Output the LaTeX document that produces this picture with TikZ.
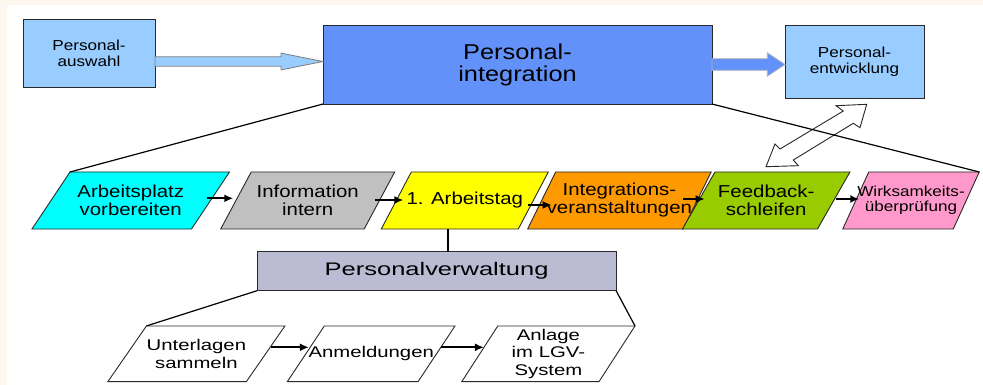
\documentclass[tikz,border=0pt]{standalone}
\usepackage{fontspec}
\setmainfont{Liberation Sans}[FakeStretch=1.18]
\newfontfamily\widesans{Liberation Sans}[FakeStretch=1.31]
\newfontfamily\widersans{Liberation Sans}[FakeStretch=1.4]
\usetikzlibrary{calc,arrows.meta}

\definecolor{bgframe}{RGB}{253,247,239}
\definecolor{lightblue}{RGB}{153,204,255}
\definecolor{integblue}{RGB}{99,145,250}
\definecolor{edge}{RGB}{40,40,40}
\definecolor{pcyan}{RGB}{0,255,255}
\definecolor{pgray}{RGB}{192,192,192}
\definecolor{pyellow}{RGB}{255,255,0}
\definecolor{porange}{RGB}{255,153,0}
\definecolor{pgreen}{RGB}{153,204,0}
\definecolor{ppink}{RGB}{255,153,204}
\definecolor{verwfill}{RGB}{187,187,212}

% slanted process step: name, cx, cy, mid width, height, slant, fill, node options, text
\newcommand{\pgram}[9]{%
  \path[pgshape, fill=#7]
    ({#2-#4/2+#6/2},{#3-#5/2}) coordinate (#1-tl) -- ({#2+#4/2+#6/2},{#3-#5/2}) coordinate (#1-tr)
    -- ({#2+#4/2-#6/2},{#3+#5/2}) coordinate (#1-br) -- ({#2-#4/2-#6/2},{#3+#5/2}) coordinate (#1-bl) -- cycle;
  \node[pgtext, minimum width=#4, minimum height=#5, #8] (#1) at (#2,#3) {#9};
}

% horizontal block arrow: start, tip, head length, shaft half width, head half width, style
\newcommand{\harrow}[6]{%
  \path[#6] ($(#1)+(0,-#4)$) -- ($(#2)+(-#3,-#4)$) -- ($(#2)+(-#3,-#5)$) -- (#2)
    -- ($(#2)+(-#3,#5)$) -- ($(#2)+(-#3,#4)$) -- ($(#1)+(0,#4)$) -- cycle;
}

\begin{document}
\begin{tikzpicture}[x=1pt,y=-1pt,
  box/.style={draw=edge, line width=0.9, inner sep=0, outer sep=0, align=center},
  pgshape/.style={draw=edge, line width=0.9},
  pgtext/.style={inner sep=0, outer sep=0, align=center},
  toprow/.style={font=\fontsize{17.3}{18}\selectfont},
  botrow/.style={font=\widesans\fontsize{15.5}{17.5}\selectfont},
  smalltxt/.style={font=\fontsize{14.5}{16}\selectfont},
  conn/.style={line width=1.7, -{Latex[length=9,width=8]}},
  fan/.style={line width=1.2},
  blockarrow/.style={line width=0.8}
]
\useasboundingbox (0,0) rectangle (983,385);
\fill[bgframe] (0,0) rectangle (983,385);
\fill[white] (7,5) rectangle (983,385);

% upper level
\node[box, fill=lightblue, minimum width=132, minimum height=68, smalltxt] (ausw) at (89,53) {Personal-\\auswahl};
\node[box, fill=integblue, minimum width=389, minimum height=79, font=\fontsize{21.5}{22}\selectfont] (integ) at (517.5,64.5) {Personal-\\integration};
\node[box, fill=lightblue, minimum width=139, minimum height=73, smalltxt] (entw) at (854.5,61.5) {Personal-\\entwicklung};

\coordinate (aS) at ($(ausw.east)+(0,8.5)$);
\coordinate (aT) at ($(integ.west)+(0,-3)$);
\harrow{aS}{aT}{42}{4.7}{8.4}{blockarrow, fill=lightblue, draw=gray}

\coordinate (eS) at (integ.east);
\coordinate (eT) at ($(entw.west)+(0,3)$);
\harrow{eS}{eT}{17.7}{5.8}{11.7}{blockarrow, fill=integblue, draw=gray!60}

% two-way link between development and feedback
\path[draw=edge, line width=0.9, fill=white]
  (866.7,104.3) -- (836,105.7) -- (843.3,111) -- (780,149) -- (775,144) -- (766,166.7)
  -- (798.3,165.7) -- (793.3,160) -- (853.3,123.3) -- (860,127.7) -- cycle;

% integration steps
\pgram{p1}{130.75}{200.5}{159.5}{57}{38}{pcyan}{toprow}{Arbeitsplatz\\vorbereiten}
\pgram{p2}{307.7}{200.5}{143.5}{57}{30.5}{pgray}{toprow}{Information\\intern}
\pgram{p3}{464.8}{200.5}{137}{57}{30}{pyellow}{toprow}{1. Arbeitstag}
\pgram{p4}{619.4}{200.5}{155.5}{57}{28}{porange}{toprow}{Integrations-\\veranstaltungen}
\pgram{p5}{766.2}{200.5}{135}{57}{32.5}{pgreen}{toprow}{Feedback-\\schleifen}
\pgram{p6}{911}{200.5}{110.5}{57}{26}{ppink}{font=\fontsize{14.5}{15}\selectfont}{Wirksamkeits-\\überprüfung}

\draw[fan] (integ.south west) -- (p1-tl);
\draw[fan] (integ.south east) -- (p6-tr);

% administration branch
\node[box, fill=verwfill, minimum width=359, minimum height=39, font=\widersans\fontsize{18.2}{20}\selectfont] (verw) at (436.6,271.2) {Personalverwaltung};
\coordinate (vx) at (448,0);
\draw[fan] (p3.south -| vx) -- (verw.north -| vx);

\pgram{b1}{196.4}{353.8}{138.5}{55.7}{38.6}{white}{botrow}{Unterlagen\\sammeln}
\pgram{b2}{371.2}{353.8}{130.7}{55.7}{37}{white}{botrow}{Anmeldungen}
\pgram{b3}{548.4}{353.8}{137.2}{55.7}{36}{white}{botrow}{Anlage\\im LGV-\\System}

\draw[fan] (verw.south west) -- (b1-tl);
\draw[fan] (verw.south east) -- (b3-tr);

% sequence arrows
\draw[conn] ($(p1.east)+(-3.8,-2.2)$) -- ($(p2.west)+(-2.7,-2.2)$);
\draw[conn] ($(p2.east)+(-4.5,-0.5)$) -- ($(p3.west)+(7,-0.5)$);
\draw[conn] ($(p3.east)+(-5,4.5)$) -- ($(p4.west)+(10,4.5)$);
\draw[conn] ($(p4.east)+(-14.5,-1.5)$) -- ($(p5.west)+(6,-1.5)$);
\draw[conn] ($(p5.east)+(2.3,-1.5)$) -- ($(p6.west)+(3.5,-1.5)$);
\draw[conn] ($(b1.east)+(5.7,-6.5)$) -- ($(b2.west)+(3,-6.5)$);
\draw[conn] ($(b2.east)+(4.5,-6.5)$) -- ($(b3.west)+(4.1,-6.5)$);
\end{tikzpicture}
\end{document}
